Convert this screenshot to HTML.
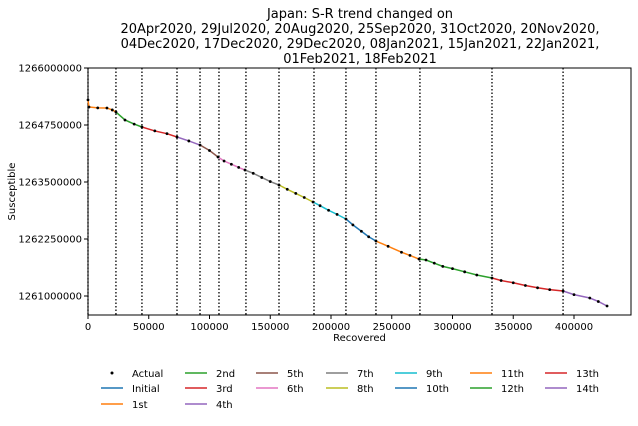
<!DOCTYPE html>
<html><head><meta charset="utf-8"><style>
body{margin:0;background:#fff}
svg{font-family:"DejaVu Sans","Liberation Sans",sans-serif}
</style></head><body>
<svg id="c" width="638" height="421">
<g font-size="13" text-anchor="middle" fill="#000">
<text x="360" y="18">Japan: S-R trend changed on</text>
<text x="360" y="33">20Apr2020, 29Jul2020, 20Aug2020, 25Sep2020, 31Oct2020, 20Nov2020,</text>
<text x="360" y="48">04Dec2020, 17Dec2020, 29Dec2020, 08Jan2021, 15Jan2021, 22Jan2021,</text>
<text x="360" y="63">01Feb2021, 18Feb2021</text>
</g>
</svg>
<script>
const xTicks=[0,50000,100000,150000,200000,250000,300000,350000,400000];
const yTicks=[1261000000,1262250000,1263500000,1264750000,1266000000];
const changePoints=[0,23000,44400,73250,92200,107800,130000,157200,186000,212300,237000,273200,332500,391000];
const actualX=[0,800,8000,15600,20000,23000,30450,38000,44400,55000,65000,73250,83000,92200,100000,107000,112000,118000,124000,129200,136000,143000,150000,157200,164000,171000,178000,185200,191000,198000,205000,212300,218000,225000,231000,237000,247000,258000,265000,272400,278200,285000,292000,300000,310000,320000,332500,340000,350000,360000,370000,380000,391000,400000,413000,420000,427200];
const actualY=[1265300000,1265145000,1265125000,1265123000,1265080000,1265035000,1264860000,1264770000,1264706000,1264620000,1264560000,1264487000,1264400000,1264311000,1264190000,1264048000,1263960000,1263890000,1263820000,1263763000,1263690000,1263600000,1263510000,1263434000,1263340000,1263250000,1263160000,1263061000,1262980000,1262880000,1262790000,1262689000,1262560000,1262420000,1262300000,1262206000,1262090000,1261960000,1261890000,1261811000,1261789000,1261720000,1261650000,1261600000,1261530000,1261460000,1261395000,1261340000,1261290000,1261230000,1261180000,1261140000,1261110000,1261030000,1260956000,1260880000,1260781000];
const seriesNames=["Initial","1st","2nd","3rd","4th","5th","6th","7th","8th","9th","10th","11th","12th","13th","14th"];
const seriesColors=["#1f77b4","#ff7f0e","#2ca02c","#d62728","#9467bd","#8c564b","#e377c2","#7f7f7f","#bcbd22","#17becf","#1f77b4","#ff7f0e","#2ca02c","#d62728","#9467bd"];
const L=88,R=631,T=68,B=315;
const sx=v=>L+v*(574-88)/400000;
const sy=v=>296-(v-1261000000)*(228/5000000);
const svg=document.getElementById('c');const NS='http://www.w3.org/2000/svg';
function mk(t,a,p){const e=document.createElementNS(NS,t);for(const k in a)e.setAttribute(k,a[k]);(p||svg).appendChild(e);return e;}
let fr=mk('rect',{x:L,y:T,width:R-L,height:B-T,fill:'none',stroke:'#000','stroke-width':1});


xTicks.forEach(t=>{const x=sx(t);
 let l=mk('line',{x1:x,x2:x,y1:B,y2:B+4,stroke:'#000'});
 
 
 let tx=mk('text',{x:x,y:B+15,'font-size':10,'text-anchor':'middle'});tx.textContent=t;
 
 });
yTicks.forEach(t=>{const y=sy(t);
 let l=mk('line',{x1:L-4,x2:L,y1:y,y2:y,stroke:'#000'});
 
 
 let tx=mk('text',{x:L-6,y:y+3.5,'font-size':10,'text-anchor':'end'});tx.textContent=t;
 
 });
let xt=mk('text',{x:(L+R)/2,y:341,'font-size':10,'text-anchor':'middle'});xt.textContent='Recovered';


let yt=mk('text',{x:15,y:(T+B)/2,'font-size':10,'text-anchor':'middle',transform:`rotate(-90 15 ${(T+B)/2})`});yt.textContent='Susceptible';


changePoints.forEach(c=>{const x=sx(c);
 let l=mk('line',{x1:x,x2:x,y1:T,y2:B,stroke:'#000','stroke-dasharray':'1.5,2','stroke-width':1.3});
 
 });
for(let s=0;s<changePoints.length;s++){
 const a=changePoints[s],b=s+1<changePoints.length?changePoints[s+1]:Infinity;
 const idx=[];actualX.forEach((x,i)=>{if(x>=a&&x<=b)idx.push(i);});
 if(idx.length===0)continue;
 if(idx.length===1||actualX[idx[0]]>a){if(idx[0]>0&&actualX[idx[0]]-actualX[idx[0]-1]<15000)idx.unshift(idx[0]-1);}
 const last=idx[idx.length-1];
 if(b!==Infinity&&actualX[last]<b&&last+1<actualX.length&&actualX[last+1]-b<3000)idx.push(last+1);
 const pts=idx.map(i=>sx(actualX[i])+','+sy(actualY[i]));
 let p=mk('polyline',{points:pts.join(' '),fill:'none',stroke:seriesColors[s+1],'stroke-width':1.5});
 
 
}
actualX.forEach((x,i)=>{let c=mk('circle',{cx:sx(x),cy:sy(actualY[i]),r:1.4,fill:'#000'});
 
 });
const colX=[101,185,256,326,395,470,545],rowY=[373,388,404];
const items=[{n:'Actual'}].concat(seriesNames.map((n,i)=>({n,c:seriesColors[i]})));
const layout=[[0,0],[0,1],[0,2],[1,0],[1,1],[1,2],[2,0],[2,1],[3,0],[3,1],[4,0],[4,1],[5,0],[5,1],[6,0],[6,1]];
items.forEach((it,i)=>{const [c,r]=layout[i];const x=colX[c],y=rowY[r];
 const g=mk('g',{});
 
 
 if(it.c)mk('line',{x1:x,x2:x+22,y1:y,y2:y,stroke:it.c,'stroke-width':1.5},g);
 else mk('circle',{cx:x+11,cy:y,r:1.5,fill:'#000'},g);
 const t=mk('text',{x:x+31,y:y+4,'font-size':10},g);t.textContent=it.n;});
</script>
</body></html>
